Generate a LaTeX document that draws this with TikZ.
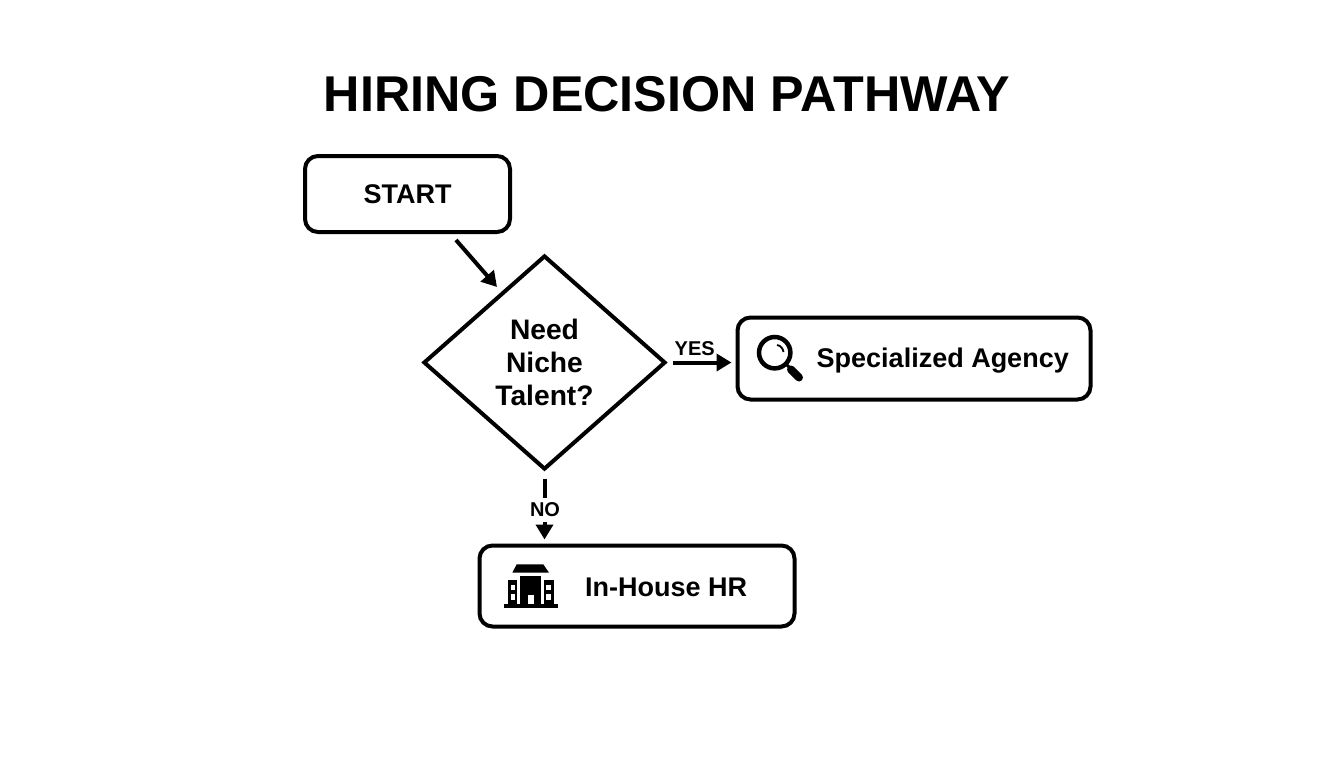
\documentclass[tikz,border=0pt]{standalone}
\usepackage{fontspec}
\setmainfont{Liberation Sans}
\usepackage{xcolor}
\usetikzlibrary{shapes.geometric,arrows.meta}
\tikzset{
    flowbox/.style={draw, line width=4pt, rounded corners=13pt, inner sep=0pt},
    flowdiamond/.style={draw, diamond, line width=4pt, inner sep=0pt, minimum width=242pt, minimum height=214pt, align=center, font=\bfseries\fontsize{28.2}{33}\selectfont},
    flowtext/.style={inner sep=0pt, font=\bfseries\fontsize{27}{33}\selectfont},
    flowlabel/.style={inner sep=1pt, font=\bfseries\fontsize{20}{24}\selectfont},
    flowarrow/.style={line width=4pt, -{Triangle[length=15pt,width=17pt]}},
}
\begin{document}
\begin{tikzpicture}[x=1pt,y=-1pt]
    \useasboundingbox (0,0) rectangle (1344,768);

    \node [inner sep=0pt, font=\bfseries\fontsize{50.3}{56}\selectfont] (title) at (667,94) {HIRING DECISION PATHWAY};

    \node [flowbox, minimum width=205pt, minimum height=76pt, flowtext] (start) at (407.5,194) {START};
    \node [flowdiamond] (need) at (544.5,362.5) {Need\\Niche\\Talent?};
    \node [flowbox, minimum width=353pt, minimum height=82pt] (agency) at (914,358.5) {};
    \node [flowbox, minimum width=315pt, minimum height=81pt] (inhouse) at (637,586) {};
    \node [flowtext, anchor=base west] (agencytext) at (816.5,367.5) {Specialized Agency};
    \node [flowtext, anchor=base west] (inhousetext) at (585,596.5) {In-House HR};

    \draw [flowarrow] ([xshift=48.5pt,yshift=-6pt]start.south) -- ([xshift=14pt,yshift=21pt]need.north west);
    \draw [flowarrow, shorten <=5pt, shorten >=4pt] (need.east) -- (need.east -| agency.west);
    \path (need.east) -- (need.east -| agency.west) node [flowlabel, pos=0.4, yshift=13.5pt] (yes) {YES};
    \draw [flowarrow, shorten <=7pt, shorten >=4pt] (need.south) -- (need.south |- inhouse.north);
    \node [flowlabel, fill=white, inner xsep=1pt, inner ysep=4.5pt] (no) at (545,510) {NO};

    % magnifier
    \draw [line width=4.5pt] (774.7,352.7) circle (15.7pt);
    \draw [line width=1.8pt] (777,345) .. controls (781,345.5) and (783,349) .. (783.5,352);
    \draw [line width=3pt] (785,363) -- (791,369);
    \draw [line width=8pt, line cap=round] (791,369.5) -- (799,377.5);

    % building
    \fill (504,604.3) rectangle (557.5,608.3);
    \fill (516.7,564.3) -- (543.3,564.3) -- (549,572.7) -- (512.3,572.7) -- cycle;
    \fill (507.5,580) rectangle (517,604.3);
    \fill (544,580) rectangle (554,604.3);
    \fill (520,575.5) rectangle (541,604.3);
    \fill [white] (511,585) rectangle (515.3,590);
    \fill [white] (511,594) rectangle (515.3,599.5);
    \fill [white] (546,585) rectangle (550.7,590);
    \fill [white] (546,594) rectangle (550.7,599.5);
    \fill [white] (528.3,595) rectangle (534,604.3);
\end{tikzpicture}
\end{document}
